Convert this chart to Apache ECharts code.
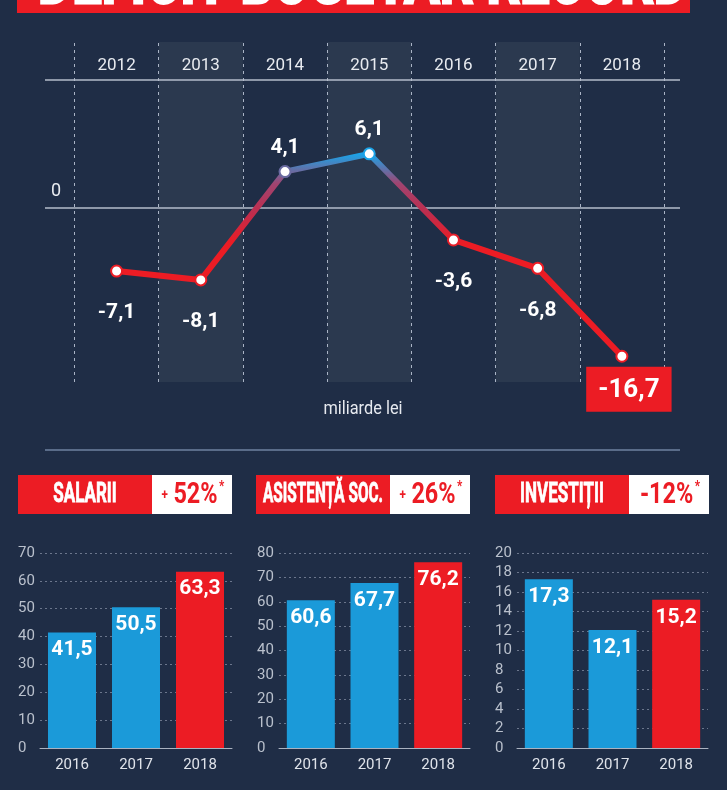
<!DOCTYPE html>
<html>
<head>
<meta charset="utf-8">
<script src="https://cdn.jsdelivr.net/npm/echarts@6/dist/echarts.min.js"></script>
<style>
  html, body { margin: 0; padding: 0; background: #1f2d46; }
  #chart { width: 727px; height: 790px; }
</style>
</head>
<body>
<div id="chart"></div>
<script>
// date
const years = [2012, 2013, 2014, 2015, 2016, 2017, 2018];
const deficit = [-7.1, -8.1, 4.1, 6.1, -3.6, -6.8, -16.7];

const barYears = ['2016', '2017', '2018'];
const salarii = [41.5, 50.5, 63.3];
const asistenta = [60.6, 67.7, 76.2];
const investitii = [17.3, 12.1, 15.2];

const panelTitles = ['SALARII', 'ASISTENȚĂ SOC.', 'INVESTIȚII'];
const panelChanges = ['+ 52%', '+ 26%', '-12%'];

const FONT = 'Roboto, "Liberation Sans", sans-serif';
const RED = '#ec1c24';
const BLUE = '#1b9ad9';
const BG = '#1f2d46';
const SQUEEZE = 0.63; // textul din infografic e condensat

const comma = v => String(v).replace('.', ',');

// latimea unui text, ca sa il comprimam la o latime data
const measureCtx = document.createElement('canvas').getContext('2d');
function textWidth(text, font) {
  measureCtx.font = font;
  return measureCtx.measureText(text).width;
}

// etichete pe linie
function lineLabel(v) {
  if (v === Math.min(...deficit)) {
    return {
      show: true, position: 'bottom', distance: 4, offset: [7, 0],
      backgroundColor: RED, padding: [11, 12, 8, 12],
      color: '#fff', fontFamily: FONT, fontWeight: 'bold', fontSize: 26,
      formatter: p => comma(p.value[1])
    };
  }
  return {
    show: true, position: v >= 0 ? 'top' : 'bottom', distance: v >= 0 ? 7 : 25,
    color: '#fff', fontFamily: FONT, fontWeight: 'bold', fontSize: 21,
    formatter: p => comma(p.value[1])
  };
}

const lineData = years.map((y, i) => ({
  value: [y, deficit[i]],
  label: lineLabel(deficit[i])
}));

// coloane umbrite si linii punctate verticale
const shaded = [[2012.5, 2013.5], [2014.5, 2015.5], [2016.5, 2017.5]];
const dividers = [2011.5, 2012.5, 2013.5, 2014.5, 2015.5, 2016.5, 2017.5, 2018.5];
const yearRow = 16.0;   // randul cu anii, deasupra liniei de sus
const headerLine = 14.42;

const panelGrids = [
  { left: 40, right: 495, top: 553, bottom: 42 },
  { left: 279, right: 257, top: 553, bottom: 42 },
  { left: 517, right: 19, top: 553, bottom: 42 }
];
const panelMax = [70, 80, 20];
const panelInterval = [10, 10, 2];
const panelData = [salarii, asistenta, investitii];
const headerX = [18, 256, 495];

const grids = [{ left: 45, right: 47, top: 42, bottom: 408 }].concat(panelGrids);

const xAxes = [{
  gridIndex: 0,
  type: 'value',
  min: 2011.15,
  max: 2018.69,
  show: false
}];
const yAxes = [{
  gridIndex: 0,
  type: 'value',
  min: -19.6,
  max: 18.7,
  show: false
}];

panelGrids.forEach((g, i) => {
  xAxes.push({
    gridIndex: i + 1,
    type: 'category',
    data: barYears,
    axisLine: { lineStyle: { color: '#aab2c0', width: 1 } },
    axisTick: { show: false },
    axisLabel: { color: '#dfe3ea', fontFamily: FONT, fontSize: 15, margin: 10 }
  });
  yAxes.push({
    gridIndex: i + 1,
    type: 'value',
    min: 0,
    max: panelMax[i],
    interval: panelInterval[i],
    axisLine: { show: false },
    axisTick: { show: false },
    axisLabel: {
      align: 'left', margin: 22, color: '#b9c0cc',
      fontFamily: FONT, fontSize: 15, padding: [0, 0, 7, 0]
    },
    splitLine: { lineStyle: { color: '#6b768c', type: [2, 3], width: 1 } }
  });
});

const series = [{
  type: 'line',
  xAxisIndex: 0,
  yAxisIndex: 0,
  data: lineData,
  symbol: 'emptyCircle',
  symbolSize: 11,
  lineStyle: { width: 6 },
  itemStyle: { borderWidth: 3 },
  z: 5,
  markArea: {
    silent: true,
    itemStyle: { color: '#2b394f' },
    data: shaded.map(s => [{ xAxis: s[0] }, { xAxis: s[1] }])
  },
  markPoint: {
    silent: true,
    symbol: 'circle',
    symbolSize: 0,
    data: years.map(y => ({ coord: [y, yearRow], value: y })),
    label: {
      show: true, position: 'inside', formatter: p => String(p.value),
      color: '#e8ebf0', fontFamily: FONT, fontSize: 17
    }
  },
  markLine: {
    silent: true,
    symbol: 'none',
    animation: false,
    data: dividers.map(d => ({
      xAxis: d,
      label: { show: false },
      lineStyle: { color: '#aab4c6', type: [3, 4], width: 1 }
    })).concat([
      {
        yAxis: 0,
        lineStyle: { color: '#b4bccb', type: 'solid', width: 1.5 },
        label: {
          show: true, position: 'insideStartTop', formatter: '0',
          color: '#e8ebf0', fontFamily: FONT, fontSize: 18, distance: [6, 8]
        }
      },
      {
        yAxis: headerLine,
        lineStyle: { color: '#b4bccb', type: 'solid', width: 1.5 },
        label: { show: false }
      }
    ])
  }
}];

panelData.forEach((vals, i) => {
  series.push({
    type: 'bar',
    xAxisIndex: i + 1,
    yAxisIndex: i + 1,
    barWidth: 48,
    data: vals.map((v, j) => ({
      value: v,
      itemStyle: { color: j === vals.length - 1 ? RED : BLUE }
    })),
    label: {
      show: true, position: 'insideTop', distance: 7,
      color: '#fff', fontFamily: FONT, fontWeight: 'bold', fontSize: 21,
      formatter: p => comma(p.value)
    }
  });
});

// grafica: banner, separator, capete de panou
const bannerFont = 'bold 72px ' + FONT;
const bannerText = 'DEFICIT BUGETAR RECORD';
const graphics = [
  { type: 'rect', shape: { x: 17, y: -10, width: 673, height: 23 }, style: { fill: RED } },
  {
    type: 'text', x: 38, y: 7,
    scaleX: 650 / textWidth(bannerText, bannerFont),
    style: {
      text: bannerText, fill: '#fff', align: 'left', verticalAlign: 'bottom',
      font: bannerFont, padding: [0, 0, -14, 0],
      stroke: '#fff', lineWidth: 3
    }
  },
  {
    type: 'text', x: 363, y: 409, scaleX: 0.86,
    style: {
      text: 'miliarde lei', fill: '#e6e9ef', align: 'center', verticalAlign: 'middle',
      font: '19px ' + FONT
    }
  },
  { type: 'line', shape: { x1: 45, y1: 450, x2: 680, y2: 450 }, style: { stroke: '#6f82a0', lineWidth: 1.5 } }
];

const titleFont = 'bold 27px ' + FONT;
headerX.forEach((x, i) => {
  const ch = panelChanges[i];
  const rich = ch.startsWith('+')
    ? '{s|+}{b|' + ch.slice(2) + '}{a|*}'
    : '{b|' + ch + '}{a|*}';
  const titleScale = Math.min(SQUEEZE, 120 / textWidth(panelTitles[i], titleFont));
  graphics.push(
    { type: 'rect', shape: { x: x, y: 475, width: 134, height: 39 }, style: { fill: RED } },
    { type: 'rect', shape: { x: x + 134, y: 475, width: 80, height: 39 }, style: { fill: '#fff' } },
    {
      type: 'text', x: x + 67, y: 495, scaleX: titleScale,
      style: {
        text: panelTitles[i], fill: '#fff', align: 'center', verticalAlign: 'middle',
        font: titleFont, stroke: '#fff', lineWidth: 0.8
      }
    },
    {
      type: 'text', x: x + 175, y: 495, scaleX: 0.78,
      style: {
        text: rich,
        align: 'center', verticalAlign: 'middle',
        rich: {
          s: { fill: RED, font: 'bold 15px ' + FONT, padding: [0, 7, 0, 0] },
          b: { fill: RED, font: 'bold 30px ' + FONT },
          a: { fill: RED, font: 'bold 15px ' + FONT, padding: [0, 0, 16, 2] }
        }
      }
    }
  );
});

const chart = echarts.init(document.getElementById('chart'));
chart.setOption({
  backgroundColor: BG,
  animation: false,
  grid: grids,
  xAxis: xAxes,
  yAxis: yAxes,
  visualMap: {
    show: false,
    type: 'continuous',
    seriesIndex: 0,
    dimension: 1,
    min: -4,
    max: 6.1,
    inRange: { color: [RED, '#c02c4c', '#a04470', '#1aa3e8'] }
  },
  series: series,
  graphic: graphics
});
</script>
</body>
</html>
